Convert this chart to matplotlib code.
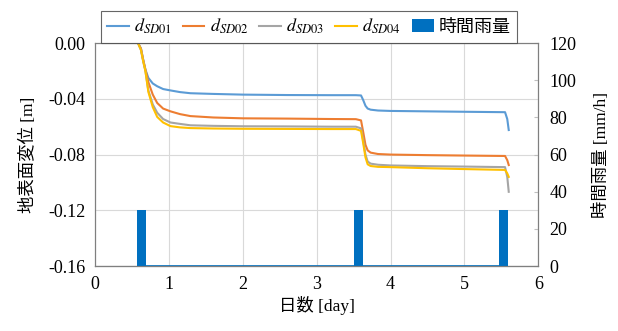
import numpy as np
import matplotlib.pyplot as plt

plt.rcParams['font.family'] = ['Liberation Serif', 'Noto Sans CJK JP']
plt.rcParams['mathtext.fontset'] = 'stix'

# 地表面変位 [m]
days = [0.58, 0.62, 0.65, 0.68, 0.72, 0.78, 0.84, 0.92, 1.02, 1.15, 1.29, 1.6, 2.0,
        2.6, 3.2, 3.53, 3.6, 3.63, 3.66, 3.69, 3.73, 3.83, 4.0, 4.5, 5.0, 5.55, 5.58, 5.6]
d_sd01 = [0.0, -0.004, -0.012, -0.019, -0.025, -0.029, -0.031, -0.033, -0.034, -0.0352, -0.036, -0.0365, -0.037,
          -0.0373, -0.0374, -0.0374, -0.0376, -0.041, -0.045, -0.047, -0.0478, -0.0484, -0.0487, -0.049, -0.0493, -0.0496, -0.0545, -0.0624]
d_sd02 = [0.0, -0.004, -0.012, -0.019, -0.028, -0.037, -0.043, -0.047, -0.049, -0.051, -0.0524, -0.0534, -0.054,
          -0.0542, -0.0545, -0.0546, -0.0555, -0.064, -0.073, -0.077, -0.0786, -0.0796, -0.080, -0.0804, -0.0807, -0.081, -0.084, -0.0875]
d_sd03 = [0.0, -0.005, -0.013, -0.020, -0.034, -0.044, -0.050, -0.0545, -0.057, -0.058, -0.059, -0.0594, -0.0597,
          -0.0598, -0.060, -0.060, -0.0612, -0.070, -0.080, -0.085, -0.0865, -0.0873, -0.0878, -0.0883, -0.0886, -0.089, -0.096, -0.1067]
d_sd04 = [0.0, -0.005, -0.013, -0.020, -0.035, -0.046, -0.053, -0.057, -0.0596, -0.0605, -0.061, -0.0613, -0.0615,
          -0.0616, -0.0617, -0.0617, -0.063, -0.072, -0.082, -0.087, -0.0882, -0.0888, -0.089, -0.0898, -0.0904, -0.091, -0.0935, -0.096]

# 時間雨量 [mm/h]
rain_days = [0.63, 3.56, 5.53]
rain = [30, 30, 30]

series = [(d_sd01, r'$d_{SD01}$', '#5B9BD5'),
          (d_sd02, r'$d_{SD02}$', '#ED7D31'),
          (d_sd03, r'$d_{SD03}$', '#A5A5A5'),
          (d_sd04, r'$d_{SD04}$', '#FFC000')]

fig = plt.figure(figsize=(6.18, 3.31), dpi=100)
ax = fig.add_axes([0.154, 0.196, 0.717, 0.674])
ax2 = ax.twinx()

for vals, lab, col in series:
    ax.plot(days, vals, color=col, lw=1.5, label=lab)

ax2.bar(rain_days, rain, width=0.12, color='#0070C0', label='時間雨量')
ax2.plot([rain_days[0], rain_days[-1]], [0, 0], color='#0070C0', lw=1.2)

ax.set_xlim(0, 6)
ax.set_ylim(-0.16, 0)
ax.set_yticks(np.arange(-0.16, 0.001, 0.04))
ax.set_yticklabels(['-0.16', '-0.12', '-0.08', '-0.04', '0.00'])
ax2.set_ylim(0, 120)
ax2.set_yticks(range(0, 121, 20))

ax.grid(True, color='#D9D9D9', lw=0.8)
ax.set_axisbelow(True)
ax.tick_params(axis='both', length=0, labelsize=13, pad=7)
ax2.tick_params(axis='y', direction='in', length=3, color='#BFBFBF', labelsize=13, pad=8)

for a in (ax, ax2):
    for s in a.spines.values():
        s.set_color('#7F7F7F')
        s.set_linewidth(0.8)
ax.spines['bottom'].set_color('black')

ax.set_xlabel('日数 [day]', fontsize=12.5, labelpad=2)
ax.set_ylabel('地表面変位 [m]', fontsize=12.5, labelpad=8)
ax2.set_ylabel('時間雨量 [mm/h]', fontsize=12.5, labelpad=12)

h1, l1 = ax.get_legend_handles_labels()
h2, l2 = ax2.get_legend_handles_labels()
leg = fig.legend(h1 + h2, l1 + l2, loc='upper center', bbox_to_anchor=(0.5, 0.995),
                 ncol=5, fontsize=13, frameon=True, fancybox=False, handlelength=1.2,
                 handletextpad=0.3, columnspacing=0.6, borderpad=0.35)
leg.get_frame().set_edgecolor('#404040')
leg.get_frame().set_linewidth(0.8)

fig.savefig('out.png', dpi=100)
